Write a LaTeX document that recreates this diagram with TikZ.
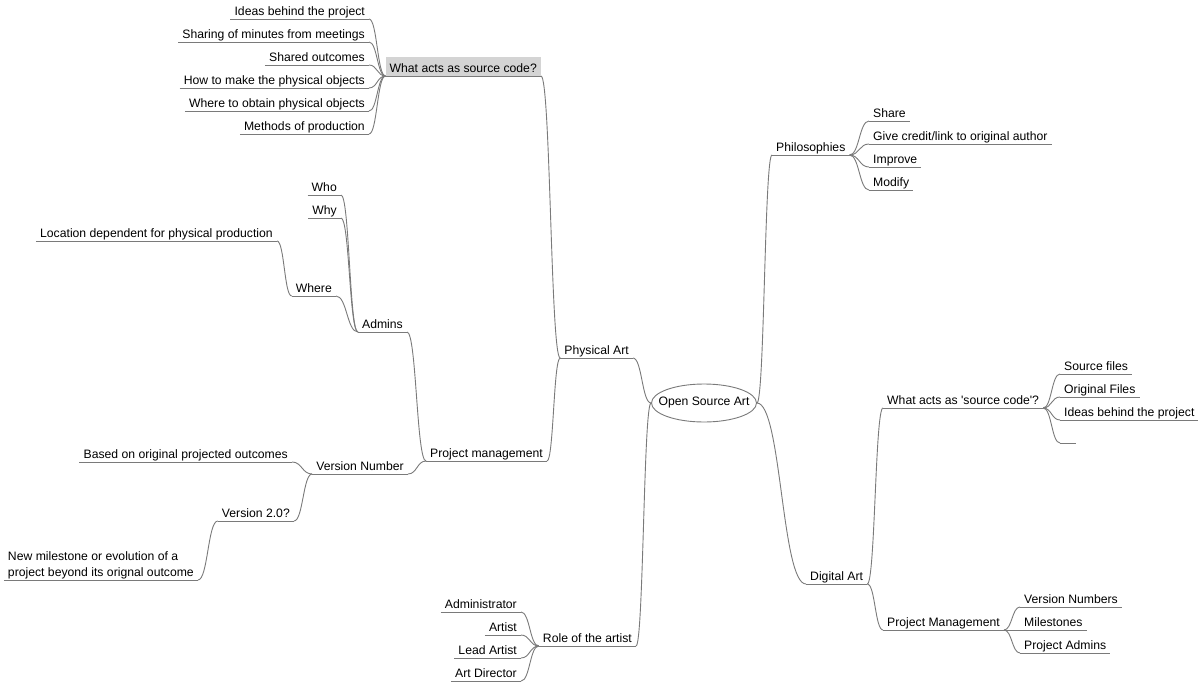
\documentclass[tikz,border=0pt]{standalone}
\usepackage{fontspec}
\setmainfont{Liberation Sans}
\usetikzlibrary{shapes.geometric,calc}

\tikzset{
  branch/.style={draw=black!52, line width=0.9pt},
  topic/.style={inner xsep=4pt, inner ysep=2pt, font=\fontsize{12.2}{15.5}\selectfont,
    append after command={(\tikzlastnode.south west) edge[branch] (\tikzlastnode.south east)}},
  lefttopic/.style={topic, text height=9pt, text depth=1.5pt, anchor=south east},
  righttopic/.style={topic, text height=9pt, text depth=1.5pt, anchor=south west},
  link/.style={branch, to path={let \p1=(\tikztostart), \p2=(\tikztotarget) in
    .. controls ({0.5*\x1+0.5*\x2},\y1) and ({0.5*\x1+0.5*\x2},\y2) .. (\tikztotarget)}},
}

\begin{document}
\begin{tikzpicture}[x=1pt, y=-1pt]
    \useasboundingbox (0,0) rectangle (1198,682);
    \node [ellipse, branch, fill=white, minimum width=105pt, minimum height=38pt, inner sep=0pt,
      label={[font=\fontsize{12.2}{15.5}\selectfont]center:Open Source Art}] (root) at (704,403) {};

    % left half
    \node [lefttopic] (phys) at (633,358) {Physical Art};
    \node [lefttopic, fill=black!17, text height=13.5pt] (src) at (541,76) {What acts as source code?};
    \node [lefttopic] (ideas) at (369,19) {Ideas behind the project};
    \node [lefttopic] (sharing) at (369,42) {Sharing of minutes from meetings};
    \node [lefttopic] (shared) at (369,65) {Shared outcomes};
    \node [lefttopic] (howto) at (369,88) {How to make the physical objects};
    \node [lefttopic] (obtain) at (369,111) {Where to obtain physical objects};
    \node [lefttopic] (methods) at (369,134) {Methods of production};
    \node [lefttopic] (pm) at (547,461) {Project management};
    \node [lefttopic] (admins) at (407,332) {Admins};
    \node [lefttopic] (who) at (341,195) {Who};
    \node [lefttopic] (why) at (341,218) {Why};
    \node [lefttopic] (where) at (336,296) {Where};
    \node [lefttopic] (location) at (277,241) {Location dependent for physical production};
    \node [lefttopic] (vnum) at (408,474) {Version Number};
    \node [lefttopic] (based) at (292,462) {Based on original projected outcomes};
    \node [lefttopic] (vtwo) at (294,521) {Version 2.0?};
    \node [topic, anchor=south east, align=left, inner ysep=1pt] (newms) at (198,580)
      {New milestone or evolution of a\\project beyond its orignal outcome};
    \node [lefttopic] (role) at (636,646) {Role of the artist};
    \node [lefttopic] (admr) at (521,612) {Administrator};
    \node [lefttopic] (artist) at (521,635) {Artist};
    \node [lefttopic] (lead) at (521,658) {Lead Artist};
    \node [lefttopic] (artdir) at (521,681) {Art Director};

    % right half
    \node [righttopic] (philo) at (772,155) {Philosophies};
    \node [righttopic] (share) at (869,121) {Share};
    \node [righttopic] (credit) at (869,144) {Give credit/link to original author};
    \node [righttopic] (improve) at (869,167) {Improve};
    \node [righttopic] (modify) at (869,190) {Modify};
    \node [righttopic] (digital) at (806,584) {Digital Art};
    \node [righttopic] (dsrc) at (883,408) {What acts as \textquotesingle source code\textquotesingle ?};
    \node [righttopic] (srcf) at (1060,374) {Source files};
    \node [righttopic] (orig) at (1060,397) {Original Files};
    \node [righttopic] (ideastwo) at (1060,420) {Ideas behind the project};
    \node [righttopic, minimum width=16pt] (blank) at (1060,443) {};
    \node [righttopic] (dpm) at (883,630) {Project Management};
    \node [righttopic] (vnums) at (1020,607) {Version Numbers};
    \node [righttopic] (miles) at (1020,630) {Milestones};
    \node [righttopic] (padm) at (1020,653) {Project Admins};

    % connectors
    \path (root.west) edge[link] (phys.south east) edge[link] (role.south east);
    \path (root.east) edge[link] (philo.south west) edge[link] (digital.south west);
    \path (phys.south west) edge[link] (src.south east) edge[link] (pm.south east);
    \path (src.south west) edge[link] (ideas.south east) edge[link] (sharing.south east)
      edge[link] (shared.south east) edge[link] (howto.south east)
      edge[link] (obtain.south east) edge[link] (methods.south east);
    \path (pm.south west) edge[link] (admins.south east) edge[link] (vnum.south east);
    \path (admins.south west) edge[link] (who.south east) edge[link] (why.south east)
      edge[link] (where.south east);
    \path (where.south west) edge[link] (location.south east);
    \path (vnum.south west) edge[link] (based.south east) edge[link] (vtwo.south east);
    \path (vtwo.south west) edge[link] (newms.south east);
    \path (role.south west) edge[link] (admr.south east) edge[link] (artist.south east)
      edge[link] (lead.south east) edge[link] (artdir.south east);
    \path (philo.south east) edge[link] (share.south west) edge[link] (credit.south west)
      edge[link] (improve.south west) edge[link] (modify.south west);
    \path (digital.south east) edge[link] (dsrc.south west) edge[link] (dpm.south west);
    \path (dsrc.south east) edge[link] (srcf.south west) edge[link] (orig.south west)
      edge[link] (ideastwo.south west) edge[link] (blank.south west);
    \path (dpm.south east) edge[link] (vnums.south west) edge[link] (miles.south west)
      edge[link] (padm.south west);
  \end{tikzpicture}
\end{document}
